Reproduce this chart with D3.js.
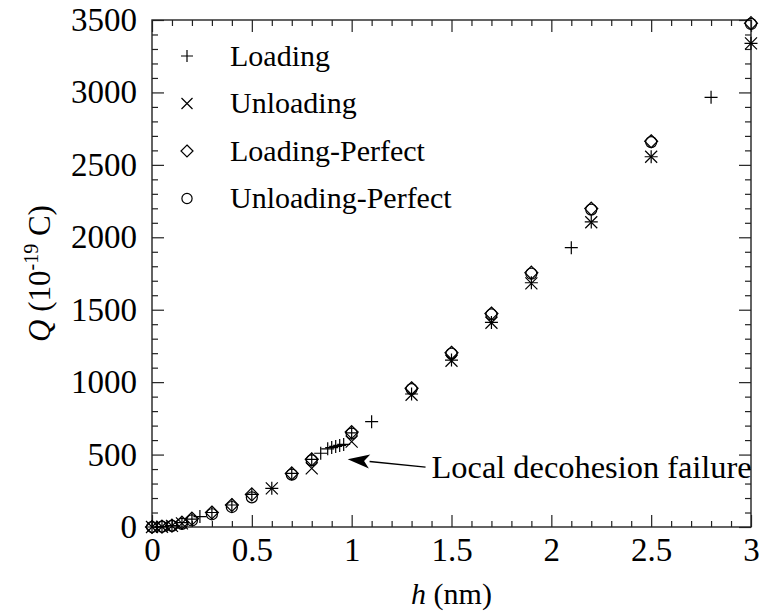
<!DOCTYPE html>
<html>
<head>
<meta charset="utf-8">
<script src="https://cdn.jsdelivr.net/npm/d3@7"></script>
<style>
  body { margin: 0; background: #fff; }
  svg { font-family: "Liberation Serif", "Times New Roman", serif; }
  .axis path { display: none; }
  .axis line { stroke: #222; stroke-width: 1.2; }
  .axis text { font-size: 33px; fill: #000; font-family: "Liberation Serif", serif; }
  .mark { fill: none; stroke: #000; stroke-width: 1.2; }
</style>
</head>
<body>
<svg width="759" height="613"></svg>
<script>
// series data, h in nm, Q in 1e-19 C
const loadingH = [0, 0.05, 0.1, 0.15, 0.2, 0.24, 0.3, 0.4, 0.5, 0.6, 0.7, 0.8, 0.845, 0.88, 0.9, 0.92, 0.94, 0.96, 1.0, 1.1, 1.3, 1.5, 1.7, 1.9, 2.1, 2.2, 2.5, 2.8, 3.0];
const loadingQ = [0, 3, 10, 30, 55, 72, 100, 152, 225, 267, 370, 467, 509, 540, 548, 556, 563, 570, 650, 727, 918, 1152, 1412, 1686, 1928, 2106, 2556, 2966, 3339];

const unloadingH = [0, 0.05, 0.1, 0.15, 0.6, 0.8, 1.0, 1.3, 1.5, 1.7, 1.9, 2.2, 2.5, 3.0];
const unloadingQ = [0, 2, 8, 25, 267, 405, 589, 913, 1148, 1410, 1682, 2104, 2556, 3339];

const perfectH = [0, 0.05, 0.1, 0.15, 0.2, 0.3, 0.4, 0.5, 0.7, 0.8, 1.0, 1.3, 1.5, 1.7, 1.9, 2.2, 2.5, 3.0];
const loadPerfectQ = [0, 3, 10, 30, 58, 100, 152, 225, 370, 467, 655, 958, 1203, 1474, 1756, 2198, 2663, 3478];
const unloadPerfectQ = [0, 2, 8, 22, 45, 88, 138, 205, 362, 460, 645, 952, 1197, 1467, 1749, 2191, 2657, 3473];

const legendLabels = ['Loading', 'Unloading', 'Loading-Perfect', 'Unloading-Perfect'];
const legendShapes = ['plus', 'times', 'diamond', 'circle'];

const xTicks = [0, 0.5, 1, 1.5, 2, 2.5, 3];
const yTicks = [0, 500, 1000, 1500, 2000, 2500, 3000, 3500];

// annotation: text anchor and arrow tip in data units
const noteText = 'Local decohesion failure';
const noteAt = [1.4, 414];
const noteTip = [0.98, 467];

const margin = { top: 20, right: 8, bottom: 86, left: 152 };
const W = 759, H = 613;
const svg = d3.select('svg');

const x = d3.scaleLinear().domain([0, 3]).range([margin.left, W - margin.right]);
const y = d3.scaleLinear().domain([0, 3500]).range([H - margin.bottom, margin.top]);

const fmt = d => String(d);
const xMinor = d3.range(0, 3.0001, 0.1).map(v => +v.toFixed(1)).filter(v => !xTicks.includes(v));
const yMinor = d3.range(0, 3501, 100).filter(v => !yTicks.includes(v));

// bottom / top
svg.append('g').attr('class', 'axis').attr('transform', `translate(0,${y(0)})`)
  .call(d3.axisBottom(x).tickValues(xTicks).tickFormat(fmt).tickSizeInner(-12).tickSizeOuter(0).tickPadding(11));
svg.append('g').attr('class', 'axis').attr('transform', `translate(0,${y(0)})`)
  .call(d3.axisBottom(x).tickValues(xMinor).tickFormat('').tickSizeInner(-6).tickSizeOuter(0));
svg.append('g').attr('class', 'axis').attr('transform', `translate(0,${y(3500)})`)
  .call(d3.axisTop(x).tickValues(xTicks).tickFormat('').tickSizeInner(-12).tickSizeOuter(0));
svg.append('g').attr('class', 'axis').attr('transform', `translate(0,${y(3500)})`)
  .call(d3.axisTop(x).tickValues(xMinor).tickFormat('').tickSizeInner(-6).tickSizeOuter(0));

// left / right
svg.append('g').attr('class', 'axis').attr('transform', `translate(${x(0)},0)`)
  .call(d3.axisLeft(y).tickValues(yTicks).tickFormat(fmt).tickSizeInner(-12).tickSizeOuter(0).tickPadding(15));
svg.append('g').attr('class', 'axis').attr('transform', `translate(${x(0)},0)`)
  .call(d3.axisLeft(y).tickValues(yMinor).tickFormat('').tickSizeInner(-6).tickSizeOuter(0));
svg.append('g').attr('class', 'axis').attr('transform', `translate(${x(3)},0)`)
  .call(d3.axisRight(y).tickValues(yTicks).tickFormat('').tickSizeInner(-12).tickSizeOuter(0));
svg.append('g').attr('class', 'axis').attr('transform', `translate(${x(3)},0)`)
  .call(d3.axisRight(y).tickValues(yMinor).tickFormat('').tickSizeInner(-6).tickSizeOuter(0));

// frame
svg.append('rect')
  .attr('x', x(0)).attr('y', y(3500))
  .attr('width', x(3) - x(0)).attr('height', y(0) - y(3500))
  .attr('fill', 'none').attr('stroke', '#222').attr('stroke-width', 1.4);

// marker shapes as paths centered on 0,0
const shapePath = (shape, s) => {
  if (shape === 'plus') return `M${-s},0H${s}M0,${-s}V${s}`;
  if (shape === 'times') return `M${-s},${-s}L${s},${s}M${-s},${s}L${s},${-s}`;
  if (shape === 'diamond') return `M0,${-s}L${s},0L0,${s}L${-s},0Z`;
  const r = s * 0.85;
  return `M${r},0A${r},${r} 0 1,1 ${-r},0A${r},${r} 0 1,1 ${r},0Z`;
};

const plotSeries = (hs, qs, shape, size) => {
  svg.append('g').selectAll('path')
    .data(hs.map((h, i) => [h, qs[i]]))
    .enter().append('path')
    .attr('class', 'mark')
    .attr('d', shapePath(shape, size))
    .attr('transform', d => `translate(${x(d[0])},${y(d[1])})`);
};

plotSeries(perfectH, unloadPerfectQ, 'circle', 6.5);
plotSeries(perfectH, loadPerfectQ, 'diamond', 6.5);
plotSeries(unloadingH, unloadingQ, 'times', 6);
plotSeries(loadingH, loadingQ, 'plus', 6.5);

// legend
const legend = svg.append('g').attr('transform', `translate(${x(0) + 35},56)`);
const rows = legend.selectAll('g').data(legendLabels).enter().append('g')
  .attr('transform', (_d, i) => `translate(0,${i * 47.5})`);
rows.append('path').attr('class', 'mark')
  .attr('d', (_d, i) => shapePath(legendShapes[i], legendShapes[i] === 'times' ? 5.5 : 6));
rows.append('text')
  .attr('x', 43).attr('dy', '0.33em')
  .attr('font-size', 30)
  .text(d => d);

// annotation with arrow
svg.append('text')
  .attr('x', x(noteAt[0])).attr('y', y(noteAt[1]))
  .attr('dy', '0.33em').attr('font-size', 32.4)
  .text(noteText);

const ax0 = x(noteAt[0]) - 6, ay0 = y(noteAt[1]);
const ax1 = x(noteTip[0]), ay1 = y(noteTip[1]);
const ang = Math.atan2(ay1 - ay0, ax1 - ax0);
const headLen = 22, headW = 7;
const bx = ax1 - headLen * Math.cos(ang), by = ay1 - headLen * Math.sin(ang);
svg.append('line')
  .attr('x1', ax0).attr('y1', ay0).attr('x2', bx).attr('y2', by)
  .attr('stroke', '#000').attr('stroke-width', 1.3);
svg.append('path')
  .attr('d', `M${ax1},${ay1}L${bx + headW * Math.sin(ang)},${by - headW * Math.cos(ang)}L${ax1 - headLen * 0.75 * Math.cos(ang)},${ay1 - headLen * 0.75 * Math.sin(ang)}L${bx - headW * Math.sin(ang)},${by + headW * Math.cos(ang)}Z`)
  .attr('fill', '#000');

// axis titles
const xt = svg.append('text')
  .attr('x', (x(0) + x(3)) / 2).attr('y', 604)
  .attr('text-anchor', 'middle').attr('font-size', 30);
xt.append('tspan').attr('font-style', 'italic').text('h');
xt.append('tspan').text(' (nm)');

const yt = svg.append('text')
  .attr('transform', `translate(50,${(y(0) + y(3500)) / 2}) rotate(-90)`)
  .attr('text-anchor', 'middle').attr('font-size', 31);
yt.append('tspan').attr('font-style', 'italic').text('Q');
yt.append('tspan').text(' (10');
yt.append('tspan').attr('font-size', 20).attr('dy', -12).text('-19');
yt.append('tspan').attr('dy', 12).text(' C)');
</script>
</body>
</html>
